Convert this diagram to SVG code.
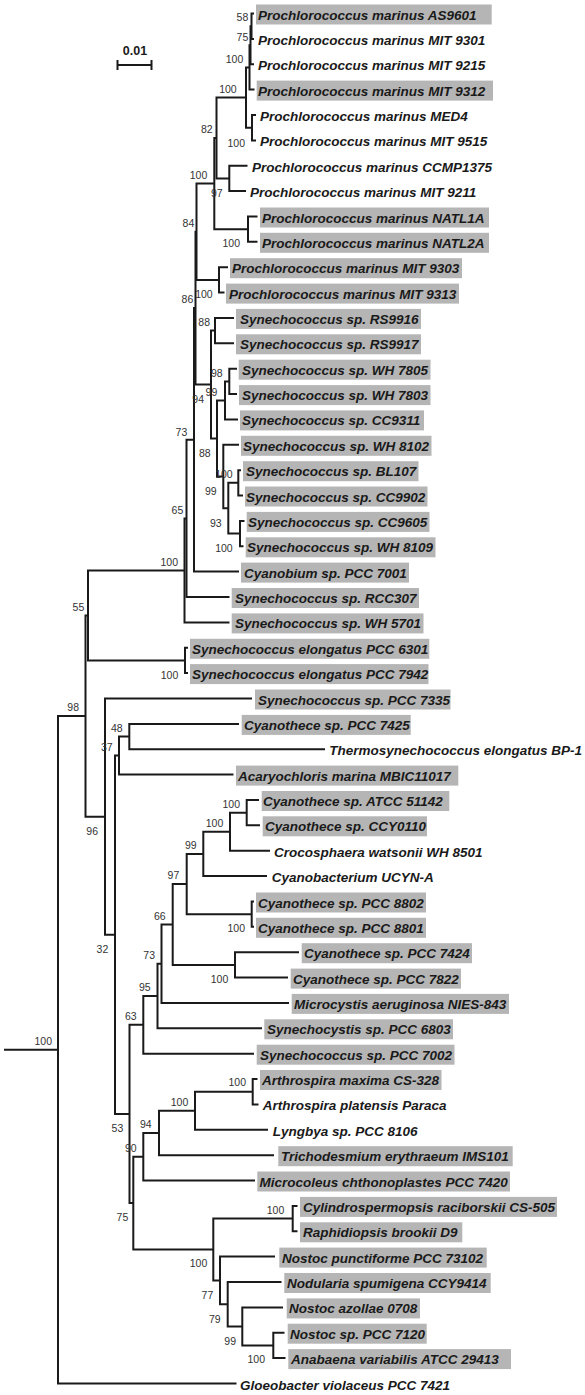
<svg xmlns="http://www.w3.org/2000/svg" width="585" height="1395" viewBox="0 0 585 1395">
<style>
.br{fill:none;stroke:#1a1a1a;stroke-width:2;stroke-linejoin:miter}
.bx{fill:#b5b5b5}
.lf{font-family:"Liberation Sans",Arial,sans-serif;font-weight:bold;font-style:italic;font-size:13.5px;fill:#1a1a1a}
.bs{font-family:"Liberation Sans",Arial,sans-serif;font-size:10.5px;fill:#333;text-anchor:end}
.sc{font-family:"Liberation Sans",Arial,sans-serif;font-weight:bold;font-size:12.5px;fill:#1a1a1a;text-anchor:middle}
</style>
<rect width="585" height="1395" fill="#fff"/>
<g id="scale-bar">
<path class="br" d="M117.5 65 H151.5 M117.5 60 V70 M151.5 60 V70"/>
<text class="sc" x="135" y="54.5">0.01</text>
</g>
<g id="connectors">
<path class="br" d="M254 13.5 H251.5 V38.9 H254"/>
<path class="br" d="M251.5 26.2 H250.5 V64.2 H254"/>
<path class="br" d="M250.5 45.2 H249.5 V89.6 H254.5"/>
<path class="br" d="M256 115 H252 V140.4 H256"/>
<path class="br" d="M249.5 67.4 H246 V127.7 H252"/>
<path class="br" d="M247.5 165.7 H229.3 V191.1 H246"/>
<path class="br" d="M246 97.55 H216.5 V178.4 H229.3"/>
<path class="br" d="M257.5 216.5 H248 V241.8 H257.5"/>
<path class="br" d="M216.5 138 H214.3 V229.15 H248"/>
<path class="br" d="M228 267.2 H219 V292.6 H224.5"/>
<path class="br" d="M214.3 183.6 H196.5 V279.9 H219"/>
<path class="br" d="M234 317.9 H215 V343.3 H234"/>
<path class="br" d="M237 368.7 H229.3 V394.1 H237"/>
<path class="br" d="M229.3 381.4 H225 V419.4 H238"/>
<path class="br" d="M241 470.2 H238.3 V495.5 H243"/>
<path class="br" d="M244.5 520.9 H240 V546.3 H243.5"/>
<path class="br" d="M238.3 482.85 H228.3 V533.6 H240"/>
<path class="br" d="M239 444.8 H223.3 V508.2 H228.3"/>
<path class="br" d="M225 400.4 H217 V476.5 H223.3"/>
<path class="br" d="M215 330.6 H211 V438.45 H217"/>
<path class="br" d="M196.5 231.75 H195.5 V384.5 H211"/>
<path class="br" d="M195.5 308.1 H194 V571.6 H239"/>
<path class="br" d="M194 439.85 H186.5 V597 H229.5"/>
<path class="br" d="M186.5 518.4 H184.5 V622.4 H229.5"/>
<path class="br" d="M188 647.8 H185 V673.1 H188"/>
<path class="br" d="M184.5 570.4 H88 V660.45 H185"/>
<path class="br" d="M239 723.9 H129.3 V749.2 H325"/>
<path class="br" d="M129.3 736.55 H119 V774.6 H233.5"/>
<path class="br" d="M259 800 H246.7 V825.3 H260"/>
<path class="br" d="M246.7 812.65 H230 V850.7 H270"/>
<path class="br" d="M230 831.7 H203.3 V876.1 H267"/>
<path class="br" d="M254 901.5 H251.7 V926.8 H254"/>
<path class="br" d="M203.3 853.9 H186.7 V914.15 H251.7"/>
<path class="br" d="M299 952.2 H235 V977.6 H288"/>
<path class="br" d="M186.7 884 H172.7 V964.9 H235"/>
<path class="br" d="M172.7 924.45 H161.5 V1002.9 H289"/>
<path class="br" d="M161.5 963.7 H157.5 V1028.3 H262"/>
<path class="br" d="M157.5 996 H143.3 V1053.7 H254"/>
<path class="br" d="M257.5 1079 H252.7 V1104.4 H258.5"/>
<path class="br" d="M252.7 1091.7 H195 V1129.8 H268"/>
<path class="br" d="M195 1110.75 H159 V1155.2 H274"/>
<path class="br" d="M159 1132.95 H143.3 V1180.5 H255"/>
<path class="br" d="M297.5 1205.9 H292.7 V1231.3 H297.5"/>
<path class="br" d="M284.5 1332.7 H273.3 V1358.1 H285.5"/>
<path class="br" d="M283 1307.4 H242.3 V1345.4 H273.3"/>
<path class="br" d="M281.5 1282 H227.7 V1326.4 H242.3"/>
<path class="br" d="M275 1256.6 H220 V1304.2 H227.7"/>
<path class="br" d="M292.7 1218.6 H213.3 V1280.4 H220"/>
<path class="br" d="M143.3 1156.7 H133.3 V1249.5 H213.3"/>
<path class="br" d="M143.3 1024.85 H129.5 V1203.1 H133.3"/>
<path class="br" d="M119 755.6 H115 V1114 H129.5"/>
<path class="br" d="M252 698.5 H105 V934.8 H115"/>
<path class="br" d="M88 615.4 H85.5 V816.65 H105"/>
<path class="br" d="M85.5 716 H58 V1383.5 H236.5"/>
<path class="br" d="M4 1049.75 H58"/>
</g>
<g id="bootstrap">
<text class="bs" x="248.3" y="20.5">58</text>
<text class="bs" x="248.3" y="40.5">75</text>
<text class="bs" x="243.3" y="63.1">100</text>
<text class="bs" x="236.7" y="93.1">100</text>
<text class="bs" x="212.7" y="133.1">82</text>
<text class="bs" x="245" y="146.5">100</text>
<text class="bs" x="207.3" y="178.8">100</text>
<text class="bs" x="222.7" y="196.5">97</text>
<text class="bs" x="194.3" y="227.1">84</text>
<text class="bs" x="240" y="247.1">100</text>
<text class="bs" x="212.7" y="298.1">100</text>
<text class="bs" x="193.3" y="303.1">86</text>
<text class="bs" x="210" y="326.1">88</text>
<text class="bs" x="222.7" y="376.5">98</text>
<text class="bs" x="217.3" y="395.5">99</text>
<text class="bs" x="204" y="402.8">94</text>
<text class="bs" x="187.3" y="435.5">73</text>
<text class="bs" x="210.7" y="456.5">88</text>
<text class="bs" x="232.7" y="478.1">100</text>
<text class="bs" x="216.7" y="494.5">99</text>
<text class="bs" x="183.3" y="513.8">65</text>
<text class="bs" x="221.7" y="526.5">93</text>
<text class="bs" x="232.7" y="551.5">100</text>
<text class="bs" x="178" y="565.5">100</text>
<text class="bs" x="84.3" y="610.5">55</text>
<text class="bs" x="178.3" y="678.8">100</text>
<text class="bs" x="79" y="710.8">98</text>
<text class="bs" x="122.7" y="731.5">48</text>
<text class="bs" x="112.7" y="750.5">37</text>
<text class="bs" x="240" y="807.8">100</text>
<text class="bs" x="223.3" y="826.5">100</text>
<text class="bs" x="98" y="834.5">96</text>
<text class="bs" x="196.7" y="849.3">99</text>
<text class="bs" x="179.3" y="879.3">97</text>
<text class="bs" x="165.7" y="919.5">66</text>
<text class="bs" x="245" y="932.1">100</text>
<text class="bs" x="108.3" y="953.1">32</text>
<text class="bs" x="155" y="958.8">73</text>
<text class="bs" x="228.3" y="982.8">100</text>
<text class="bs" x="150.7" y="991.1">95</text>
<text class="bs" x="136.7" y="1019.8">63</text>
<text class="bs" x="52" y="1044.5">100</text>
<text class="bs" x="246" y="1086.3">100</text>
<text class="bs" x="188.3" y="1106.1">100</text>
<text class="bs" x="151.7" y="1128.1">94</text>
<text class="bs" x="123.3" y="1132.1">53</text>
<text class="bs" x="136.7" y="1151.5">90</text>
<text class="bs" x="284.3" y="1213.8">100</text>
<text class="bs" x="128.3" y="1221.1">75</text>
<text class="bs" x="207.3" y="1267.1">100</text>
<text class="bs" x="213.3" y="1298.8">77</text>
<text class="bs" x="220.7" y="1322.8">79</text>
<text class="bs" x="236" y="1344.5">99</text>
<text class="bs" x="265" y="1363.1">100</text>
</g>
<g id="leaves">
<g id="leaf-AS9601"><rect class="bx" x="256" y="4.5" width="235.7" height="20"/><text class="lf" x="258" y="19.5">Prochlorococcus marinus AS9601</text></g>
<g id="leaf-MIT9301"><text class="lf" x="258" y="44.9">Prochlorococcus marinus MIT 9301</text></g>
<g id="leaf-MIT9215"><text class="lf" x="258" y="70.2">Prochlorococcus marinus MIT 9215</text></g>
<g id="leaf-MIT9312"><rect class="bx" x="256.7" y="80.6" width="236.3" height="20"/><text class="lf" x="258" y="95.6">Prochlorococcus marinus MIT 9312</text></g>
<g id="leaf-MED4"><text class="lf" x="260" y="121">Prochlorococcus marinus MED4</text></g>
<g id="leaf-MIT9515"><text class="lf" x="260" y="146.4">Prochlorococcus marinus MIT 9515</text></g>
<g id="leaf-CCMP1375"><text class="lf" x="252" y="171.7">Prochlorococcus marinus CCMP1375</text></g>
<g id="leaf-MIT9211"><text class="lf" x="250" y="197.1">Prochlorococcus marinus MIT 9211</text></g>
<g id="leaf-NATL1A"><rect class="bx" x="260" y="207.5" width="229" height="20"/><text class="lf" x="262" y="222.5">Prochlorococcus marinus NATL1A</text></g>
<g id="leaf-NATL2A"><rect class="bx" x="260" y="232.8" width="229" height="20"/><text class="lf" x="262" y="247.8">Prochlorococcus marinus NATL2A</text></g>
<g id="leaf-MIT9303"><rect class="bx" x="230" y="258.2" width="232" height="20"/><text class="lf" x="232" y="273.2">Prochlorococcus marinus MIT 9303</text></g>
<g id="leaf-MIT9313"><rect class="bx" x="226" y="283.6" width="233" height="20"/><text class="lf" x="229" y="298.6">Prochlorococcus marinus MIT 9313</text></g>
<g id="leaf-RS9916"><rect class="bx" x="236" y="308.9" width="185" height="20"/><text class="lf" x="240" y="323.9">Synechococcus sp. RS9916</text></g>
<g id="leaf-RS9917"><rect class="bx" x="236" y="334.3" width="185" height="20"/><text class="lf" x="240" y="349.3">Synechococcus sp. RS9917</text></g>
<g id="leaf-WH7805"><rect class="bx" x="238.7" y="359.7" width="191.8" height="20"/><text class="lf" x="242" y="374.7">Synechococcus sp. WH 7805</text></g>
<g id="leaf-WH7803"><rect class="bx" x="239" y="385.1" width="191.5" height="20"/><text class="lf" x="242" y="400.1">Synechococcus sp. WH 7803</text></g>
<g id="leaf-CC9311"><rect class="bx" x="240" y="410.4" width="184" height="20"/><text class="lf" x="242" y="425.4">Synechococcus sp. CC9311</text></g>
<g id="leaf-WH8102"><rect class="bx" x="241" y="435.8" width="190.5" height="20"/><text class="lf" x="243" y="450.8">Synechococcus sp. WH 8102</text></g>
<g id="leaf-BL107"><rect class="bx" x="243" y="461.2" width="175.5" height="20"/><text class="lf" x="246" y="476.2">Synechococcus sp. BL107</text></g>
<g id="leaf-CC9902"><rect class="bx" x="245" y="486.5" width="182.5" height="20"/><text class="lf" x="246" y="501.5">Synechococcus sp. CC9902</text></g>
<g id="leaf-CC9605"><rect class="bx" x="246.7" y="511.9" width="182.8" height="20"/><text class="lf" x="248" y="526.9">Synechococcus sp. CC9605</text></g>
<g id="leaf-WH8109"><rect class="bx" x="245.7" y="537.3" width="189.8" height="20"/><text class="lf" x="247" y="552.3">Synechococcus sp. WH 8109</text></g>
<g id="leaf-PCC7001"><rect class="bx" x="241" y="562.6" width="168" height="20"/><text class="lf" x="244" y="577.6">Cyanobium sp. PCC 7001</text></g>
<g id="leaf-RCC307"><rect class="bx" x="231.7" y="588" width="187.3" height="20"/><text class="lf" x="235" y="603">Synechococcus sp. RCC307</text></g>
<g id="leaf-WH5701"><rect class="bx" x="231.7" y="613.4" width="191.8" height="20"/><text class="lf" x="235" y="628.4">Synechococcus sp. WH 5701</text></g>
<g id="leaf-PCC6301"><rect class="bx" x="190" y="638.8" width="239.3" height="20"/><text class="lf" x="192" y="653.8">Synechococcus elongatus PCC 6301</text></g>
<g id="leaf-PCC7942"><rect class="bx" x="190" y="664.1" width="238.5" height="20"/><text class="lf" x="192" y="679.1">Synechococcus elongatus PCC 7942</text></g>
<g id="leaf-PCC7335"><rect class="bx" x="255" y="689.5" width="195.5" height="20"/><text class="lf" x="258" y="704.5">Synechococcus sp. PCC 7335</text></g>
<g id="leaf-PCC7425"><rect class="bx" x="241.7" y="714.9" width="169" height="20"/><text class="lf" x="244" y="729.9">Cyanothece sp. PCC 7425</text></g>
<g id="leaf-BP1"><text class="lf" x="329.3" y="755.2">Thermosynechococcus elongatus BP-1</text></g>
<g id="leaf-MBIC11017"><rect class="bx" x="236" y="765.6" width="222.3" height="20"/><text class="lf" x="238" y="780.6">Acaryochloris marina MBIC11017</text></g>
<g id="leaf-ATCC51142"><rect class="bx" x="261.7" y="791" width="187.6" height="20"/><text class="lf" x="263" y="806">Cyanothece sp. ATCC 51142</text></g>
<g id="leaf-CCY0110"><rect class="bx" x="262.7" y="816.3" width="164.3" height="20"/><text class="lf" x="265" y="831.3">Cyanothece sp. CCY0110</text></g>
<g id="leaf-WH8501"><text class="lf" x="274" y="856.7">Crocosphaera watsonii WH 8501</text></g>
<g id="leaf-UCYNA"><text class="lf" x="271.7" y="882.1">Cyanobacterium UCYN-A</text></g>
<g id="leaf-PCC8802"><rect class="bx" x="256" y="892.5" width="170" height="20"/><text class="lf" x="258" y="907.5">Cyanothece sp. PCC 8802</text></g>
<g id="leaf-PCC8801"><rect class="bx" x="256" y="917.8" width="170" height="20"/><text class="lf" x="258" y="932.8">Cyanothece sp. PCC 8801</text></g>
<g id="leaf-PCC7424"><rect class="bx" x="301.7" y="943.2" width="170.3" height="20"/><text class="lf" x="304" y="958.2">Cyanothece sp. PCC 7424</text></g>
<g id="leaf-PCC7822"><rect class="bx" x="290.7" y="968.6" width="170.3" height="20"/><text class="lf" x="293" y="983.6">Cyanothece sp. PCC 7822</text></g>
<g id="leaf-NIES843"><rect class="bx" x="291.7" y="993.9" width="217.3" height="20"/><text class="lf" x="294" y="1008.9">Microcystis aeruginosa NIES-843</text></g>
<g id="leaf-PCC6803"><rect class="bx" x="264.3" y="1019.3" width="188.7" height="20"/><text class="lf" x="267" y="1034.3">Synechocystis sp. PCC 6803</text></g>
<g id="leaf-PCC7002"><rect class="bx" x="256.7" y="1044.7" width="197.8" height="20"/><text class="lf" x="260" y="1059.7">Synechococcus sp. PCC 7002</text></g>
<g id="leaf-CS328"><rect class="bx" x="260" y="1070" width="181.5" height="20"/><text class="lf" x="262" y="1085">Arthrospira maxima CS-328</text></g>
<g id="leaf-Paraca"><text class="lf" x="262.7" y="1110.4">Arthrospira platensis Paraca</text></g>
<g id="leaf-PCC8106"><text class="lf" x="272.7" y="1135.8">Lyngbya sp. PCC 8106</text></g>
<g id="leaf-IMS101"><rect class="bx" x="278.3" y="1146.2" width="234.4" height="20"/><text class="lf" x="281" y="1161.2">Trichodesmium erythraeum IMS101</text></g>
<g id="leaf-PCC7420"><rect class="bx" x="257.3" y="1171.5" width="252.7" height="20"/><text class="lf" x="259.5" y="1186.5">Microcoleus chthonoplastes PCC 7420</text></g>
<g id="leaf-CS505"><rect class="bx" x="300" y="1196.9" width="257" height="20"/><text class="lf" x="303" y="1211.9">Cylindrospermopsis raciborskii CS-505</text></g>
<g id="leaf-D9"><rect class="bx" x="300" y="1222.3" width="162.3" height="20"/><text class="lf" x="303" y="1237.3">Raphidiopsis brookii D9</text></g>
<g id="leaf-PCC73102"><rect class="bx" x="279.3" y="1247.6" width="207.4" height="20"/><text class="lf" x="282" y="1262.6">Nostoc punctiforme PCC 73102</text></g>
<g id="leaf-CCY9414"><rect class="bx" x="284.3" y="1273" width="206.4" height="20"/><text class="lf" x="287" y="1288">Nodularia spumigena CCY9414</text></g>
<g id="leaf-0708"><rect class="bx" x="286.7" y="1298.4" width="133.3" height="20"/><text class="lf" x="289" y="1313.4">Nostoc azollae 0708</text></g>
<g id="leaf-PCC7120"><rect class="bx" x="287.7" y="1323.7" width="139" height="20"/><text class="lf" x="290" y="1338.7">Nostoc sp. PCC 7120</text></g>
<g id="leaf-ATCC29413"><rect class="bx" x="288.3" y="1349.1" width="222.7" height="20"/><text class="lf" x="291" y="1364.1">Anabaena variabilis ATCC 29413</text></g>
<g id="leaf-PCC7421"><text class="lf" x="240" y="1389.5">Gloeobacter violaceus PCC 7421</text></g>
</g>
</svg>
